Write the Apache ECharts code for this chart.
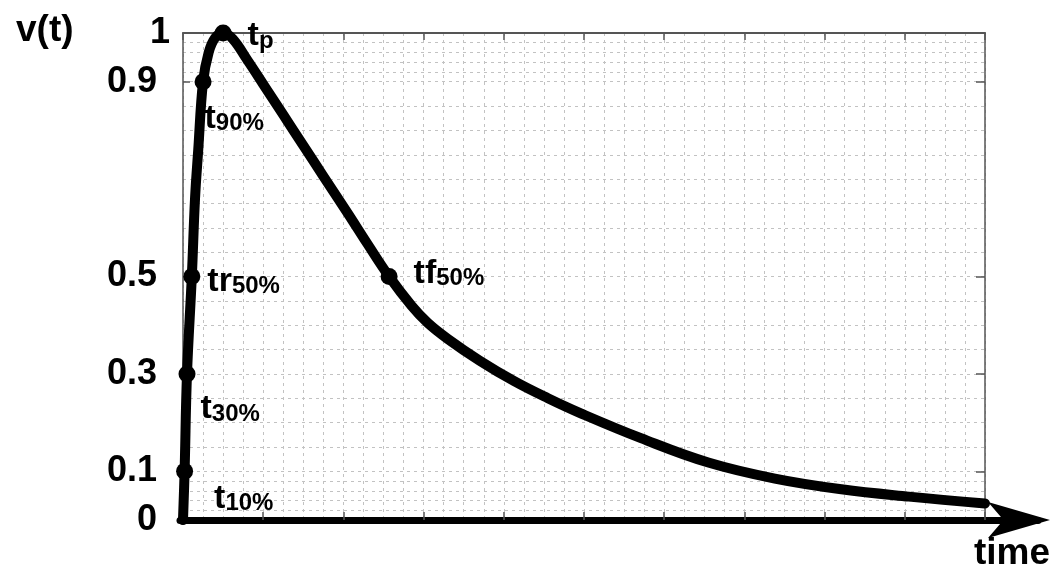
<!DOCTYPE html>
<html>
<head>
<meta charset="utf-8">
<title>v(t) pulse</title>
<script src="https://cdn.jsdelivr.net/npm/echarts@6/dist/echarts.min.js"></script>
<style>
  html, body { margin: 0; padding: 0; background: #ffffff; }
  #chart { width: 1054px; height: 573px; }
</style>
</head>
<body>
<div id="chart"></div>
<script>
// Pulse waveform v(t): fast rise, slow exponential-like decay
const timeValues    = [0, 0.02, 0.05, 0.11, 0.15, 0.19, 0.25, 0.32, 0.40, 0.50, 0.62, 0.80, 1.00, 1.25, 1.50, 1.75, 2.05, 2.30, 2.57, 2.85, 3.05, 3.30, 3.70, 4.13, 4.55, 4.96, 5.71, 6.55, 7.38, 8.21, 9.05, 10.0];
const voltageValues = [0, 0.10, 0.30, 0.50, 0.66, 0.76, 0.90, 0.96, 0.99, 1.00, 0.988, 0.945, 0.895, 0.832, 0.769, 0.706, 0.631, 0.567, 0.50, 0.440, 0.405, 0.372, 0.327, 0.285, 0.250, 0.219, 0.168, 0.118, 0.085, 0.063, 0.048, 0.034];

// Characteristic points on the waveform
const keyTimes  = [0.02, 0.05, 0.11, 0.25, 0.50, 2.57];
const keyValues = [0.10, 0.30, 0.50, 0.90, 1.00, 0.50];
const keyMain   = ['t', 't', 'tr', 't', 't', 'tf'];
const keySub    = ['10%', '30%', '50%', '90%', 'p', '50%'];
const keyLabelOffsets = [[16, 27], [0, 35], [2, 5], [-12, 37], [11, 3], [11, -3]];

// Axis ticks and dotted grid levels
const yTickValues = [0, 0.1, 0.3, 0.5, 0.9, 1];
const yBorderTicks = [0.1, 0.3, 0.5, 0.9];
const hGridValues = [0.02, 0.04, 0.06, 0.08, 0.10, 0.15, 0.20, 0.25, 0.30, 0.35, 0.40, 0.45, 0.50,
                     0.55, 0.60, 0.65, 0.70, 0.75, 0.80, 0.85, 0.90, 0.92, 0.94, 0.96, 0.98];
const xMin = 0, xMax = 10, xStep = 1;

const FONT = '"Liberation Sans", Arial, sans-serif';
const gridDash = { color: '#c2c2c2', width: 1, type: [3, 4] };
const borderColor = '#555555';

const curveData = timeValues.map((t, i) => [t, voltageValues[i]]);
const keyData = keyTimes.map((t, i) => ({
  value: [t, keyValues[i]],
  label: { offset: keyLabelOffsets[i] }
}));

// subscripts with descenders sit a little lower
const subStyle = sub => (/[gjpqy]/.test(sub) ? 'sd' : 's');

const chart = echarts.init(document.getElementById('chart'), null, { renderer: 'canvas' });

chart.setOption({
  animation: false,
  backgroundColor: '#ffffff',
  title: [
    { text: 'v(t)', left: 11, top: 7,
      textStyle: { fontFamily: FONT, fontSize: 37, fontWeight: 'bold', color: '#000' } },
    { text: 'time', right: -1, top: 530,
      textStyle: { fontFamily: FONT, fontSize: 37, fontWeight: 'bold', color: '#000' } }
  ],
  grid: [
    { left: 183, right: 69, top: 33, bottom: 53 },
    { left: 180, right: 16, top: 33, bottom: 53 }
  ],
  xAxis: [
    { // plot x axis: ticks at the bottom, dotted vertical grid
      type: 'value', gridIndex: 0, min: xMin, max: xMax, interval: xStep, position: 'bottom',
      axisLine: { show: false },
      axisTick: { show: true, inside: true, length: 8, lineStyle: { color: borderColor, width: 1.5 } },
      axisLabel: { show: false },
      splitLine: { show: true, lineStyle: gridDash },
      minorTick: { show: false, splitNumber: 4 },
      minorSplitLine: { show: true, lineStyle: gridDash }
    },
    { // top border of the frame
      type: 'value', gridIndex: 0, min: xMin, max: xMax, interval: xStep, position: 'top',
      axisLine: { show: true, onZero: false, lineStyle: { color: borderColor, width: 2 } },
      axisTick: { show: true, inside: true, length: 7, lineStyle: { color: borderColor, width: 1.5 } },
      axisLabel: { show: false },
      splitLine: { show: false }
    },
    { // heavy time axis with arrow head
      type: 'value', gridIndex: 1, min: 0, max: 1, position: 'bottom',
      axisLine: { show: true, onZero: false,
        lineStyle: { color: '#000', width: 7 },
        symbol: ['none', 'arrow'], symbolSize: [27, 62], symbolOffset: [0, 12] },
      axisTick: { show: false }, axisLabel: { show: false }, splitLine: { show: false }
    }
  ],
  yAxis: [
    { // left axis with value labels
      type: 'value', gridIndex: 0, min: 0, max: 1, position: 'left',
      axisLine: { show: true, onZero: false, lineStyle: { color: borderColor, width: 1.5 } },
      axisTick: { show: true, inside: true, length: 7, customValues: yBorderTicks,
        lineStyle: { color: borderColor, width: 1.5 } },
      axisLabel: {
        show: true, margin: 13, customValues: yTickValues,
        formatter: v => (v === 1 ? '{one|1}' : '{num|' + v + '}'),
        rich: {
          one: { fontFamily: FONT, fontSize: 36, fontWeight: 'bold', color: '#000' },
          num: { fontFamily: FONT, fontSize: 36, fontWeight: 'bold', color: '#000', padding: [0, 13, 0, 0] }
        }
      },
      splitLine: { show: false }
    },
    { // right border of the frame
      type: 'value', gridIndex: 0, min: 0, max: 1, position: 'right',
      axisLine: { show: true, onZero: false, lineStyle: { color: borderColor, width: 1.5 } },
      axisTick: { show: true, inside: true, length: 9, customValues: yBorderTicks,
        lineStyle: { color: borderColor, width: 1.5 } },
      axisLabel: { show: false },
      splitLine: { show: false }
    },
    { type: 'value', gridIndex: 1, min: 0, max: 1, show: false }
  ],
  series: [
    {
      name: 'v(t)', type: 'line', xAxisIndex: 0, yAxisIndex: 0,
      data: curveData, showSymbol: false, symbol: 'none',
      smooth: 0.4, z: 3,
      lineStyle: { color: '#000', width: 10, cap: 'round', join: 'round' },
      silent: true,
      markLine: {
        z: 0, silent: true, symbol: ['none', 'none'],
        label: { show: false },
        lineStyle: gridDash,
        emphasis: { disabled: true },
        data: hGridValues.map(v => ({ yAxis: v }))
      }
    },
    {
      name: 'key points', type: 'scatter', xAxisIndex: 0, yAxisIndex: 0,
      data: keyData, symbol: 'circle', symbolSize: 17, z: 4, silent: true,
      itemStyle: { color: '#000', opacity: 1 },
      label: {
        show: true, position: 'right', distance: 5, color: '#000', opacity: 1,
        formatter: p => {
          const sub = keySub[p.dataIndex];
          return '{m|' + keyMain[p.dataIndex] + '}{' + subStyle(sub) + '|' + sub + '}';
        },
        rich: {
          m: { fontFamily: FONT, fontSize: 34, fontWeight: 'bold', color: '#000', lineHeight: 34 },
          s: { fontFamily: FONT, fontSize: 24, fontWeight: 'bold', color: '#000', lineHeight: 10, verticalAlign: 'bottom' },
          sd: { fontFamily: FONT, fontSize: 24, fontWeight: 'bold', color: '#000', lineHeight: 10, verticalAlign: 'bottom', padding: [8, 0, 0, 0] }
        }
      }
    }
  ]
});
</script>
</body>
</html>
